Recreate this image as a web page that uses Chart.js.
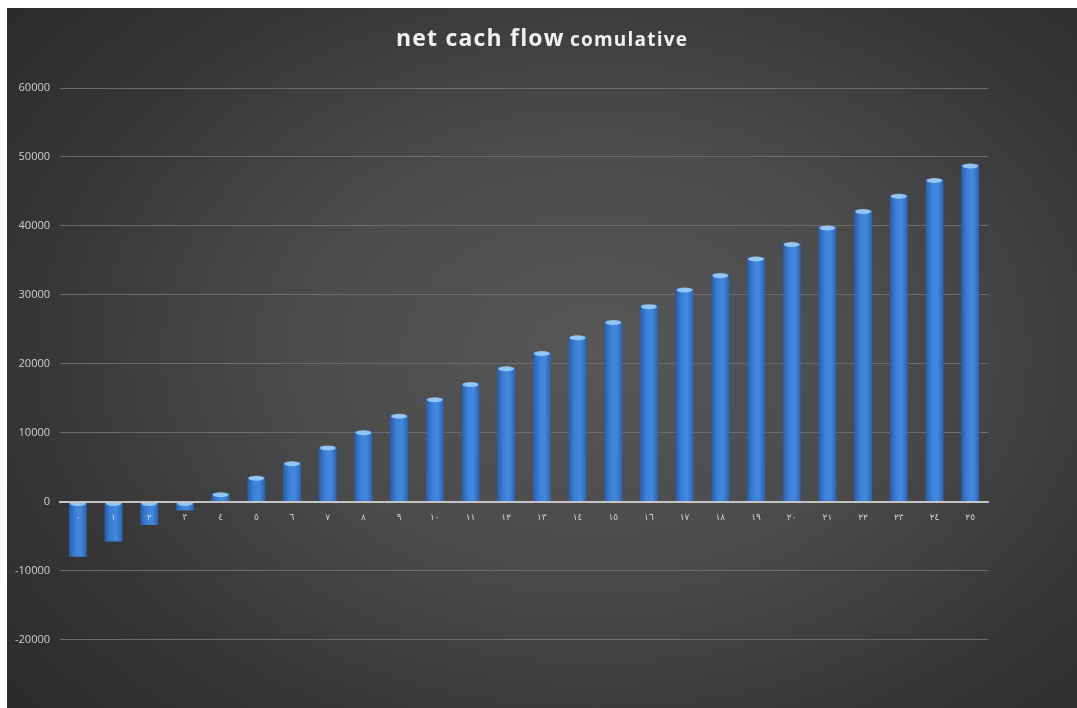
<!DOCTYPE html>
<html>
<head>
<meta charset="utf-8">
<script src="https://cdn.jsdelivr.net/npm/chart.js@4.4.1/dist/chart.umd.min.js"></script>
<style>
  html, body { margin: 0; padding: 0; background: #fff; overflow: hidden; width: 1077px; height: 708px; }
  #box {
    position: absolute; left: 7px; top: 8px; width: 1070px; height: 717px;
    background: radial-gradient(ellipse 70% 75% at 55% 48%, #575757 0%, #4b4b4b 40%, #363636 75%, #2c2c2c 100%);
  }
  #title {
    position: absolute; left: 0; width: 100%; top: 13px; text-align: center;
    color: #f0f0f0; font-family: "Open Sans", "DejaVu Sans", sans-serif; font-weight: bold;
    letter-spacing: 1.2px;
  }
  #title .big { font-size: 23px; }
  #title .small { font-size: 19px; }
  canvas { position: absolute; left: 0; top: 0; }
</style>
</head>
<body>
<div id="box">
  <canvas id="cashChart" width="1070" height="717"></canvas>
  <div id="title"><span class="big">net cach flow</span> <span class="small">comulative</span></div>
</div>
<script>
const years = ['٠','١','٢','٣','٤','٥','٦','٧','٨','٩','١٠','١١','١٢','١٣','١٤','١٥','١٦','١٧','١٨','١٩','٢٠','٢١','٢٢','٢٣','٢٤','٢٥'];
const cumulative = [-8000, -5800, -3400, -1300, 1200, 3600, 5700, 8000, 10200, 12600, 15000, 17200, 19500, 21700, 24000, 26200, 28500, 30900, 33000, 35400, 37500, 39900, 42300, 44500, 46800, 48900];
const yMin = -30000;
const yMax = 60000;
const yStep = 10000;

// cylinder look: horizontal gradient per bar
function barGradient(ctx) {
  const chart = ctx.chart;
  const x = chart.scales.x;
  if (!chart.chartArea || !x || ctx.dataIndex === undefined) return '#3a7dd4';
  const cx = x.getPixelForValue(ctx.dataIndex);
  const half = (chart.chartArea.width / years.length) * 0.25;
  const g = chart.ctx.createLinearGradient(cx - half, 0, cx + half, 0);
  g.addColorStop(0, '#2a5ca8');
  g.addColorStop(0.35, '#3b80d8');
  g.addColorStop(0.65, '#418ae0');
  g.addColorStop(1, '#2c62b2');
  return g;
}

// light cap at the top end of every bar
const barCaps = {
  id: 'barCaps',
  afterDatasetsDraw(chart) {
    const c = chart.ctx;
    c.save();
    chart.getDatasetMeta(0).data.forEach(bar => {
      const top = Math.min(bar.y, bar.base);
      c.fillStyle = 'rgba(155,205,250,0.9)';
      c.beginPath();
      c.ellipse(bar.x, top + 1.5, bar.width / 2 - 1, 2.5, 0, 0, Math.PI * 2);
      c.fill();
    });
    c.restore();
  }
};

new Chart(document.getElementById('cashChart'), {
  type: 'bar',
  data: {
    labels: years,
    datasets: [{
      data: cumulative,
      backgroundColor: barGradient,
      categoryPercentage: 1,
      barPercentage: 0.5
    }]
  },
  options: {
    responsive: false,
    animation: false,
    layout: { padding: { top: 80, bottom: 0, left: 0, right: 89 } },
    plugins: { legend: { display: false }, tooltip: { enabled: false } },
    scales: {
      x: {
        position: { y: 0 },
        afterFit(scale) { scale.height = 0; },
        grid: { color: 'transparent', drawTicks: false },
        border: { display: true, color: '#c4c4c4', width: 2, z: 1 },
        ticks: { z: 1, color: '#d4d4d4', padding: 11, font: { family: 'DejaVu Sans', size: 9 } }
      },
      y: {
        min: yMin,
        max: yMax,
        afterFit(scale) { scale.width = 53; },
        grid: {
          color: ctx => (ctx.tick && ctx.tick.value === yMin) ? 'transparent' : '#6c6c6c',
          lineWidth: 1,
          drawTicks: false
        },
        border: { display: false },
        ticks: {
          stepSize: yStep,
          padding: 10,
          color: '#d0d0d0',
          font: { family: 'Open Sans', size: 11 },
          callback: v => v === yMin ? '' : v
        }
      }
    }
  },
  plugins: [barCaps]
});
</script>
</body>
</html>
